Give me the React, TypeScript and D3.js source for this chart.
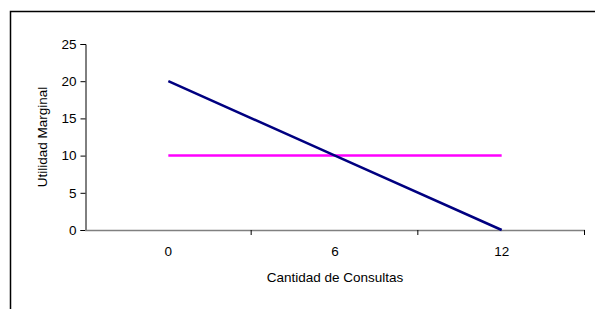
import React, { useEffect, useRef } from 'react';
import * as d3 from 'd3';

const categories = ['0', '6', '12'];
const utilidad = [20, 10, 0];
const precio = [10, 10, 10];
const yTicks = [0, 5, 10, 15, 20, 25];

const FONT = 'Liberation Sans, Arial, sans-serif';

const App = () => {
    const ref = useRef<SVGSVGElement>(null);
    const width = 595;
    const height = 309;
    const left = 85;
    const right = 585;
    const top = 44;
    const bottom = 230;

    useEffect(() => {
        const svg = d3.select(ref.current);
        svg.selectAll('*').remove();

        const x = d3.scaleBand().domain(categories).range([left, right]).padding(0);
        const y = d3.scaleLinear().domain([0, 25]).range([bottom, top]);
        const cx = (c: string) => (x(c) as number) + x.bandwidth() / 2;

        // outer chart border
        svg.append('path')
            .attr('d', `M10.5,${height + 5} V11.5 H${width + 5}`)
            .attr('fill', 'none')
            .attr('stroke', '#000')
            .attr('stroke-width', 1.5);

        // y axis
        const yAxis = d3.axisLeft(y).tickValues(yTicks).tickSize(5).tickPadding(4);
        const gy = svg.append('g').attr('transform', `translate(${left + 0.5},0)`).call(yAxis);
        gy.select('.domain').attr('stroke', '#000');
        gy.selectAll('text').attr('font-family', FONT).attr('font-size', 13.5).attr('fill', '#000');

        // x axis line and ticks at band edges
        const gx = svg.append('g');
        gx.append('line')
            .attr('x1', left).attr('x2', right)
            .attr('y1', bottom + 0.5).attr('y2', bottom + 0.5)
            .attr('stroke', '#808080').attr('stroke-width', 1.5);
        const edges = categories.map(c => x(c) as number).concat([right]);
        gx.selectAll('line.tk').data(edges.slice(1)).enter().append('line')
            .attr('class', 'tk')
            .attr('x1', d => d - 0.5).attr('x2', d => d - 0.5)
            .attr('y1', bottom).attr('y2', bottom + 5)
            .attr('stroke', '#000');
        gx.selectAll('text').data(categories).enter().append('text')
            .attr('x', d => cx(d)).attr('y', bottom + 26)
            .attr('text-anchor', 'middle')
            .attr('font-family', FONT).attr('font-size', 13.5)
            .text(d => d);

        const line = d3.line<number>()
            .x((_, i) => cx(categories[i]))
            .y(d => y(d));

        svg.append('path').datum(precio)
            .attr('d', line)
            .attr('fill', 'none').attr('stroke', '#FF00FF').attr('stroke-width', 2.5);
        svg.append('path').datum(utilidad)
            .attr('d', line)
            .attr('fill', 'none').attr('stroke', '#000080').attr('stroke-width', 2.5);

        svg.append('text')
            .attr('transform', `translate(47,${(top + bottom) / 2}) rotate(-90)`)
            .attr('text-anchor', 'middle')
            .attr('font-family', FONT).attr('font-size', 13.5)
            .text('Utilidad Marginal');
        svg.append('text')
            .attr('x', (left + right) / 2).attr('y', 282)
            .attr('text-anchor', 'middle')
            .attr('font-family', FONT).attr('font-size', 13.5)
            .text('Cantidad de Consultas');
    }, []);

    return (
        <svg ref={ref} width={width} height={height}
            style={{ position: 'absolute', left: 0, top: 0, background: '#fff' }} />
    );
};

export default App;
